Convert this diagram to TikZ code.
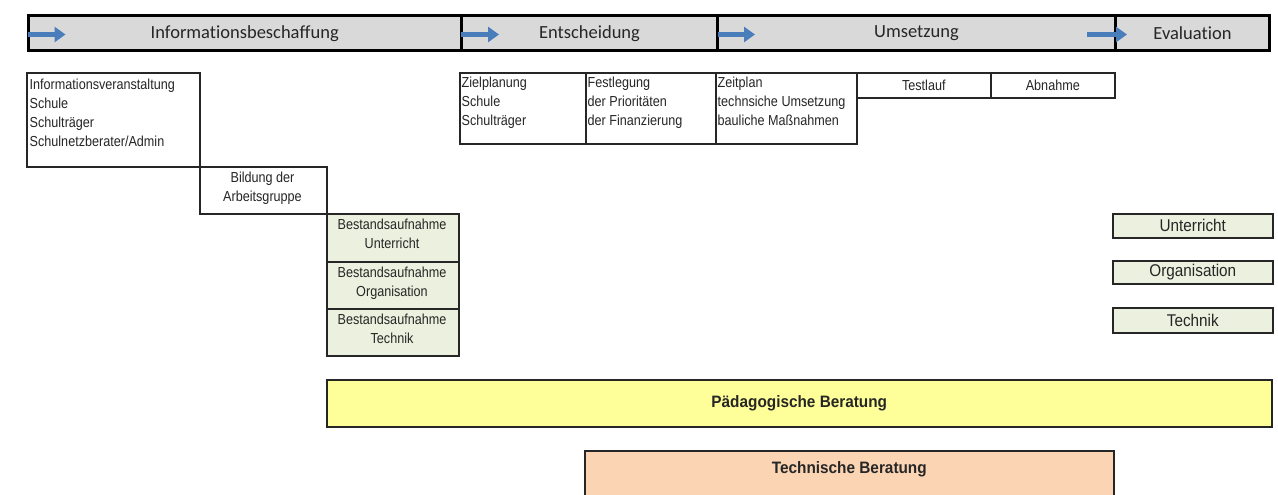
\documentclass[tikz,border=0pt]{standalone}
\usepackage{fontspec}
\setmainfont{Liberation Sans}
\newfontfamily\hdrfont[Ligatures=NoCommon]{Carlito}
\newfontfamily\narrowfont[FakeStretch=0.87]{Liberation Sans}
\newfontfamily\evalfont[FakeStretch=0.9]{Liberation Sans}
\newfontfamily\boldnarrow[FakeStretch=0.93]{Liberation Sans Bold}
\usetikzlibrary{arrows.meta,calc}
\definecolor{hdrgray}{HTML}{D9D9D9}
\definecolor{boxgreen}{HTML}{EBF1DE}
\definecolor{paleyellow}{HTML}{FFFF99}
\definecolor{peach}{HTML}{FBD4B4}
\definecolor{arrowblue}{HTML}{4A7EBB}
\definecolor{txtgray}{HTML}{262626}
\begin{document}
\begin{tikzpicture}[x=1pt,y=-1pt,
  hdrcell/.style={draw=black,line width=3pt,fill=hdrgray,inner sep=0pt,
    font=\hdrfont\fontsize{18.5}{22}\selectfont,text=txtgray},
  plainbox/.style={draw=black!85,line width=1.6pt,inner sep=0pt},
  greenbox/.style={plainbox,fill=boxgreen},
  smalltxt/.style={inner sep=0pt,font=\narrowfont\fontsize{14.5}{19}\selectfont,text=txtgray},
  evaltxt/.style={font=\evalfont\fontsize{17}{19}\selectfont,text=txtgray},
  boldtxt/.style={inner sep=0pt,font=\boldnarrow\fontsize{16.5}{19}\selectfont,text=txtgray},
  bluearrow/.style={draw=arrowblue,line width=5pt,-{Triangle[length=11pt,width=15pt]}}]
\clip (0,0) rectangle (1278,495);
\fill[white] (0,0) rectangle (1278,495);
% header cells
\node[hdrcell,minimum width=433.5pt,minimum height=35pt,anchor=north west] (h1) at (26.5,14.5) {Informationsbeschaffung};
\node[hdrcell,minimum width=256pt,minimum height=35pt,anchor=north west] (h2) at (460,14.5) {Entscheidung};
\node[hdrcell,minimum width=398pt,minimum height=35pt,anchor=north west] (h3) at (716,14.5) {Umsetzung};
\node[hdrcell,minimum width=154pt,minimum height=35pt,anchor=north west] (h4) at (1114,14.5) {Evaluation};
% blue arrows
\coordinate (a1s) at ($(h1.west)+(1,1)$);
\coordinate (a1e) at ($(a1s)+(38,0)$);
\coordinate (a2s) at ($(h2.west)+(1,1)$);
\coordinate (a2e) at ($(a2s)+(38,0)$);
\coordinate (a3s) at ($(h3.west)+(2,1)$);
\coordinate (a3e) at ($(a3s)+(37,0)$);
\coordinate (a4s) at ($(h4.west)+(-27,1)$);
\coordinate (a4e) at ($(a4s)+(40,0)$);
\draw[bluearrow] (a1s) -- (a1e);
\draw[bluearrow] (a2s) -- (a2e);
\draw[bluearrow] (a3s) -- (a3e);
\draw[bluearrow] (a4s) -- (a4e);
% Informationsbeschaffung column
\node[plainbox,minimum width=173pt,minimum height=94pt,anchor=north west] (b1) at (26,72) {};
\node[smalltxt,align=left,anchor=north west] (b1t) at (29.5,79) {Informationsveranstaltung\\Schule\\Schulträger\\Schulnetzberater/Admin};
\node[plainbox,minimum width=127pt,minimum height=47pt,anchor=north west] (b2) at (199,166) {};
\node[smalltxt,align=center,anchor=north] (b2t) at (262.5,172) {Bildung der\\Arbeitsgruppe};
\node[greenbox,minimum width=132pt,minimum height=48pt,anchor=north west] (s1) at (326,213) {};
\node[greenbox,minimum width=132pt,minimum height=47pt,anchor=north west] (s2) at (326,261) {};
\node[greenbox,minimum width=132pt,minimum height=47pt,anchor=north west] (s3) at (326,308) {};
\node[smalltxt,align=center,anchor=north] (s1t) at (392,219) {Bestandsaufnahme\\Unterricht};
\node[smalltxt,align=center,anchor=north] (s2t) at (392,266.5) {Bestandsaufnahme\\Organisation};
\node[smalltxt,align=center,anchor=north] (s3t) at (392,313.5) {Bestandsaufnahme\\Technik};
% Entscheidung / Umsetzung boxes
\node[plainbox,minimum width=126pt,minimum height=71pt,anchor=north west] (e1) at (459,72) {};
\node[plainbox,minimum width=130pt,minimum height=71pt,anchor=north west] (e2) at (585,72) {};
\node[plainbox,minimum width=141pt,minimum height=71pt,anchor=north west] (e3) at (715,72) {};
\node[smalltxt,align=left,anchor=north west] (e1t) at (461.5,77) {Zielplanung\\Schule\\Schulträger};
\node[smalltxt,align=left,anchor=north west] (e2t) at (587.5,77) {Festlegung\\der Prioritäten\\der Finanzierung};
\node[smalltxt,align=left,anchor=north west] (e3t) at (717.5,77) {Zeitplan\\technsiche Umsetzung\\bauliche Maßnahmen};
\node[plainbox,smalltxt,minimum width=134pt,minimum height=25pt,anchor=north west] (t1) at (856,72) {Testlauf};
\node[plainbox,smalltxt,minimum width=124pt,minimum height=25pt,anchor=north west] (t2) at (990,72) {Abnahme};
% Evaluation boxes
\node[greenbox,evaltxt,minimum width=160pt,minimum height=24pt,anchor=north west] (v1) at (1112,213) {Unterricht};
\node[greenbox,evaltxt,minimum width=160pt,minimum height=23pt,anchor=north west] (v2) at (1112,260) {Organisation};
\node[greenbox,evaltxt,minimum width=160pt,minimum height=25pt,anchor=north west] (v3) at (1112,307) {Technik};
% Beratung bars
\node[plainbox,fill=paleyellow,minimum width=945pt,minimum height=47pt,anchor=north west] (pb) at (326,379) {};
\node[boldtxt] (pbt) at (pb.center) {Pädagogische Beratung};
\node[plainbox,fill=peach,minimum width=529pt,minimum height=70pt,anchor=north west] (tb) at (584,450) {};
\node[boldtxt] (tbt) at ($(tb.north)+(0,19)$) {Technische Beratung};
\end{tikzpicture}
\end{document}
